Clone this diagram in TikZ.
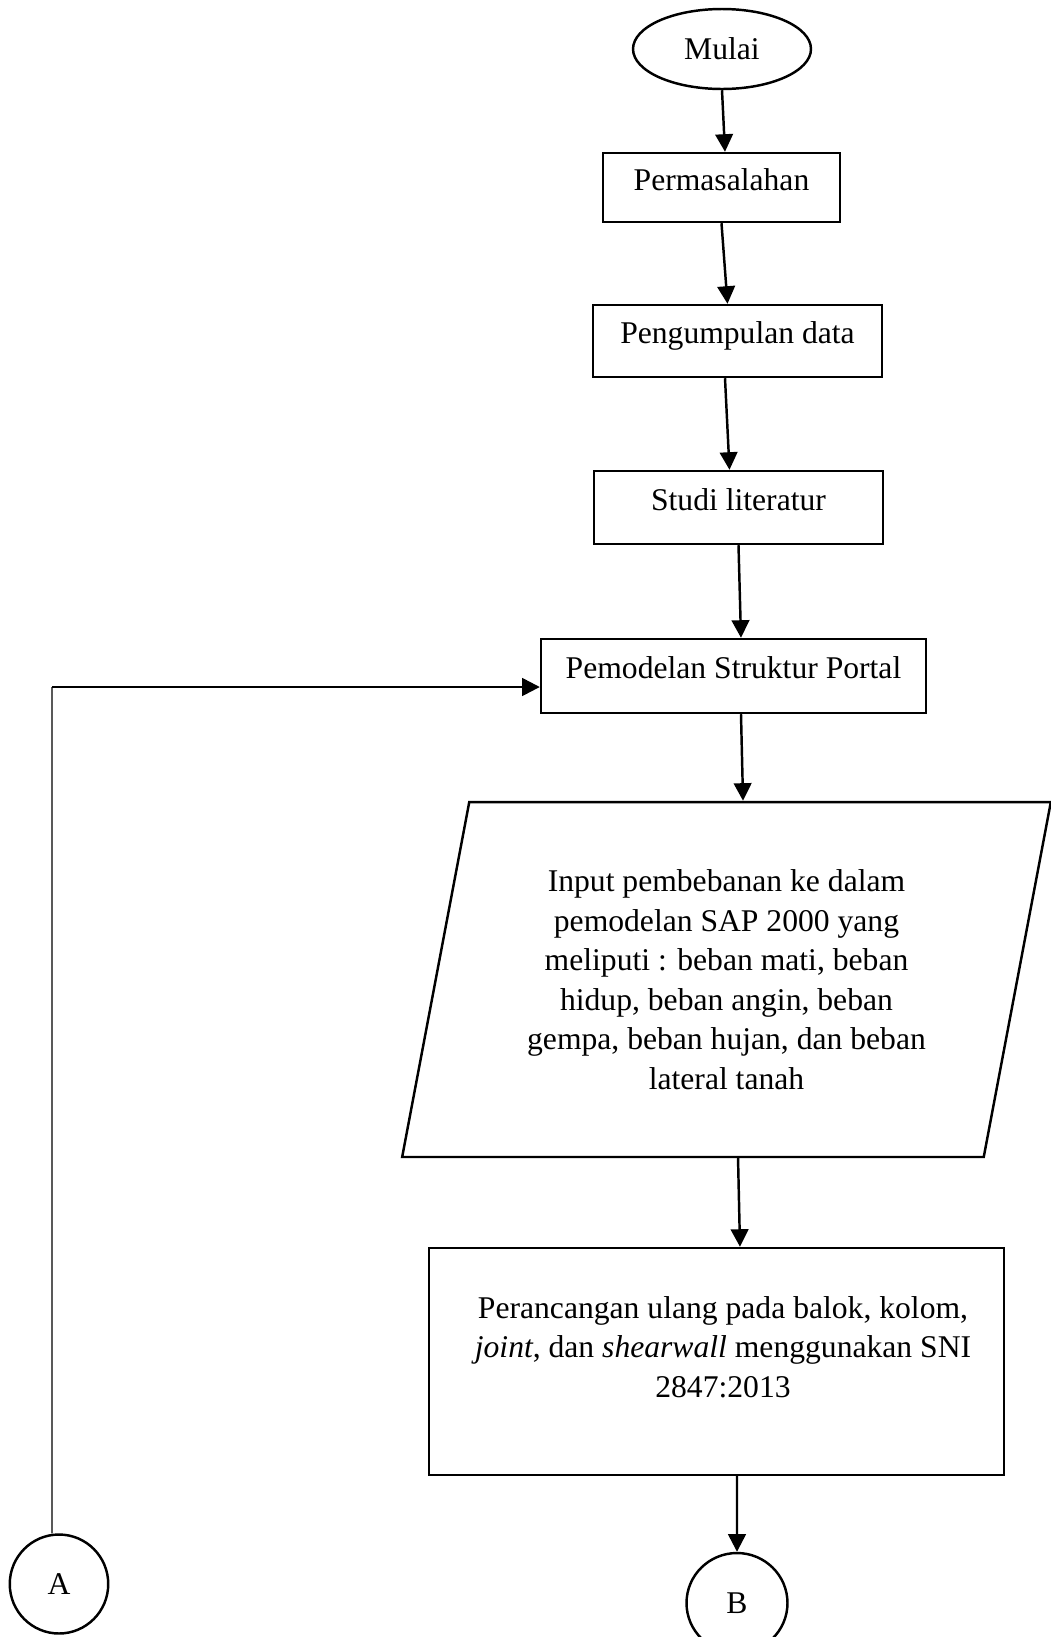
\documentclass[tikz,border=0pt]{standalone}
\usepackage{fontspec}
\setmainfont{Liberation Serif}
\usepackage{tikz}
\usetikzlibrary{shapes.geometric, arrows.meta}
\tikzstyle{huruf}=[font=\fontsize{18}{22.5}\selectfont]
\tikzstyle{proses}=[huruf, draw, line width=1.4pt, rectangle, inner sep=0pt, text height=12pt, text depth=9pt]
\tikzstyle{terminal}=[huruf, draw, line width=1.4pt, ellipse, inner sep=0pt]
\tikzstyle{masukan}=[huruf, draw, line width=1.4pt, trapezium, trapezium left angle=76.7, trapezium right angle=103.3, trapezium stretches=true, inner sep=0pt, align=center]
\tikzstyle{alur}=[line width=1.4pt, -{Triangle[length=10pt, width=10pt]}]

\begin{document}
\begin{tikzpicture}[x=0.02cm, y=-0.02cm]
        \useasboundingbox (0,0) rectangle (1051,1637);
        \node[terminal, minimum width=3.56cm, minimum height=1.6cm] (mulai) at (722,49) {Mulai};
        \node[proses, minimum width=4.74cm, minimum height=1.38cm] (masalah) at (721.5,187.5) {Permasalahan};
        \node[proses, minimum width=5.78cm, minimum height=1.44cm] (data) at (737.5,341) {Pengumpulan data};
        \node[proses, minimum width=5.78cm, minimum height=1.46cm] (studi) at (738.5,507.5) {Studi literatur};
        \node[proses, minimum width=7.7cm, minimum height=1.48cm] (model) at (733.5,676) {Pemodelan Struktur Portal};
        \node[masukan, minimum width=12.98cm, minimum height=7.1cm] (beban) at (726.5,979.5) {Input pembebanan ke dalam\\pemodelan SAP 2000 yang\\meliputi : beban mati, beban\\hidup, beban angin, beban\\gempa, beban hujan, dan beban\\lateral tanah};
        \node[draw, line width=1.4pt, rectangle, minimum width=11.5cm, minimum height=4.54cm] (desain) at (716.5,1361.5) {};
        \node[huruf, align=center] (desainteks) at (723,1347) {Perancangan ulang pada balok, kolom,\\\textit{joint}, dan \textit{shearwall} menggunakan SNI\\2847:2013};
        \node[terminal, minimum width=1.97cm, minimum height=1.98cm] (a) at (59,1584) {A};
        \node[terminal, minimum width=2.02cm, minimum height=2cm] (b) at (737,1603) {B};
        % alur utama
        \draw[alur] (mulai.south) -- ([xshift=0.07cm]masalah.north);
        \draw[alur] (masalah.south) -- ([xshift=-0.2cm]data.north);
        \draw[alur] ([xshift=-0.25cm]data.south) -- ([xshift=-0.18cm]studi.north);
        \draw[alur] (studi.south) -- ([xshift=0.15cm]model.north);
        \draw[alur] ([xshift=0.15cm]model.south) -- ([xshift=0.33cm]beban.north);
        \draw[alur] ([xshift=0.23cm]beban.south) -- ([xshift=0.47cm]desain.north);
        \draw[alur] ([xshift=0.41cm]desain.south) -- (b.north);
        % kembali dari A
        \coordinate (belok) at (52,687);
        \draw[line width=0.7pt] ([xshift=-0.14cm]a.north) -- (belok);
        \draw[alur] (belok) -- (model.west |- belok);
    \end{tikzpicture}
\end{document}
